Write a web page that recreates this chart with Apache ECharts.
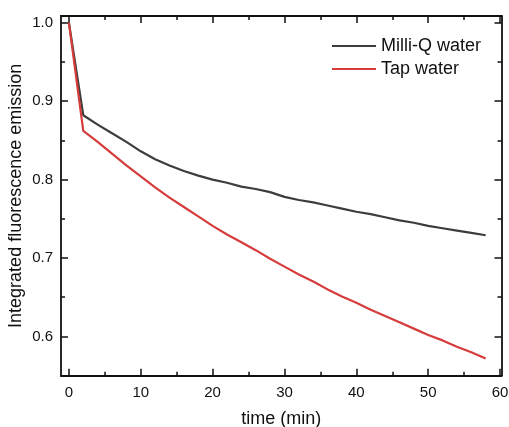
<!DOCTYPE html>
<html>
<head>
<meta charset="utf-8">
<script src="https://cdn.jsdelivr.net/npm/echarts@6/dist/echarts.min.js"></script>
<style>
  html, body { margin: 0; padding: 0; background: #fff; }
  #chart { width: 509px; height: 427px; }
</style>
</head>
<body>
<div id="chart"></div>
<script>
// Time points (min)
const timeMin = [0, 2, 4, 6, 8, 10, 12, 14, 16, 18, 20, 22, 24, 26, 28, 30,
                 32, 34, 36, 38, 40, 42, 44, 46, 48, 50, 52, 54, 56, 58];
// Normalised integrated fluorescence emission
const milliQ = [1.000, 0.882, 0.870, 0.859, 0.848, 0.836, 0.826, 0.818, 0.811, 0.805,
                0.800, 0.796, 0.791, 0.788, 0.784, 0.778, 0.774, 0.771, 0.767, 0.763,
                0.759, 0.756, 0.752, 0.748, 0.745, 0.741, 0.738, 0.735, 0.732, 0.729];
const tapWater = [1.000, 0.862, 0.848, 0.833, 0.818, 0.804, 0.790, 0.777, 0.765, 0.753,
                  0.741, 0.730, 0.720, 0.710, 0.699, 0.689, 0.679, 0.670, 0.660, 0.651,
                  0.643, 0.634, 0.626, 0.618, 0.610, 0.602, 0.595, 0.587, 0.580, 0.572];
const seriesNames = ['Milli-Q water', 'Tap water'];

// Axis ranges and tick values
const xRange = [-1.1, 60.2];
const yRange = [0.55, 1.0085];
const xMajor = [0, 10, 20, 30, 40, 50, 60];
const xMinor = [5, 15, 25, 35, 45, 55];
const yMajor = [0.6, 0.7, 0.8, 0.9, 1.0];
const yMinor = [0.65, 0.75, 0.85, 0.95];

const FONT = '"Liberation Sans", Arial, sans-serif';
const AXIS_COLOR = '#111';

function baseAxis(kind, position) {
  const range = kind === 'x' ? xRange : yRange;
  return {
    type: 'value', position: position, offset: 0,
    min: range[0], max: range[1],
    axisLine: { show: false, onZero: false },
    axisTick: { show: false },
    axisLabel: { show: false },
    splitLine: { show: false }
  };
}

// Plain scale the series are plotted on (nothing drawn)
function dataAxis(kind, position) {
  return baseAxis(kind, position);
}

// Frame side: the line only
function lineAxis(kind, position) {
  const a = baseAxis(kind, position);
  a.axisLine = { show: true, onZero: false, lineStyle: { color: AXIS_COLOR, width: 1.8 } };
  return a;
}

// Inward ticks only
function tickAxis(kind, position, values, tickLen) {
  const a = baseAxis(kind, position);
  a.axisTick = { show: true, inside: true, length: tickLen, customValues: values,
                 lineStyle: { color: AXIS_COLOR, width: 1.5 } };
  return a;
}

// Tick labels and axis title
function labelAxis(kind, position, values, margin, formatter, name, nameGap) {
  const a = baseAxis(kind, position);
  a.name = name;
  a.nameLocation = 'middle';
  a.nameGap = nameGap;
  a.nameMoveOverlap = false;
  a.nameTextStyle = { fontFamily: FONT, fontSize: 18, color: '#111' };
  a.axisLabel = { show: true, customValues: values, margin: margin,
                  fontFamily: FONT, fontSize: 15, color: '#111', formatter: formatter };
  return a;
}

const pairs = (xs, ys) => xs.map((x, i) => [x, ys[i]]);

const chart = echarts.init(document.getElementById('chart'), null, { renderer: 'canvas' });
chart.setOption({
  backgroundColor: '#fff',
  animation: false,
  grid: { left: 61, right: 7.5, top: 16, bottom: 51.3,
          containLabel: false, outerBoundsMode: 'none' },
  legend: {
    orient: 'vertical', left: 327, top: 32,
    itemWidth: 44, itemHeight: 2, itemGap: 5, icon: 'rect',
    textStyle: { fontFamily: FONT, fontSize: 18, color: '#111' },
    data: seriesNames
  },
  xAxis: [
    dataAxis('x', 'bottom'),
    lineAxis('x', 'bottom'),
    tickAxis('x', 'bottom', xMajor, 7),
    tickAxis('x', 'bottom', xMinor, 4),
    labelAxis('x', 'bottom', xMajor, 10, v => String(Math.round(v)), 'time (min)', 34),
    lineAxis('x', 'top'),
    tickAxis('x', 'top', xMajor, 7),
    tickAxis('x', 'top', xMinor, 4)
  ],
  yAxis: [
    dataAxis('y', 'left'),
    lineAxis('y', 'left'),
    tickAxis('y', 'left', yMajor, 7),
    tickAxis('y', 'left', yMinor, 4),
    labelAxis('y', 'left', yMajor, 8, v => v.toFixed(1), 'Integrated fluorescence emission', 36),
    lineAxis('y', 'right'),
    tickAxis('y', 'right', yMajor, 7),
    tickAxis('y', 'right', yMinor, 4)
  ],
  series: [
    { name: seriesNames[0], type: 'line', xAxisIndex: 0, yAxisIndex: 0,
      data: pairs(timeMin, milliQ), showSymbol: false, symbol: 'none',
      lineStyle: { color: '#3d3d3d', width: 2.2 }, itemStyle: { color: '#3d3d3d' } },
    { name: seriesNames[1], type: 'line', xAxisIndex: 0, yAxisIndex: 0,
      data: pairs(timeMin, tapWater), showSymbol: false, symbol: 'none',
      lineStyle: { color: '#d63c3c', width: 2.2 }, itemStyle: { color: '#d63c3c' } }
  ]
});
</script>
</body>
</html>
